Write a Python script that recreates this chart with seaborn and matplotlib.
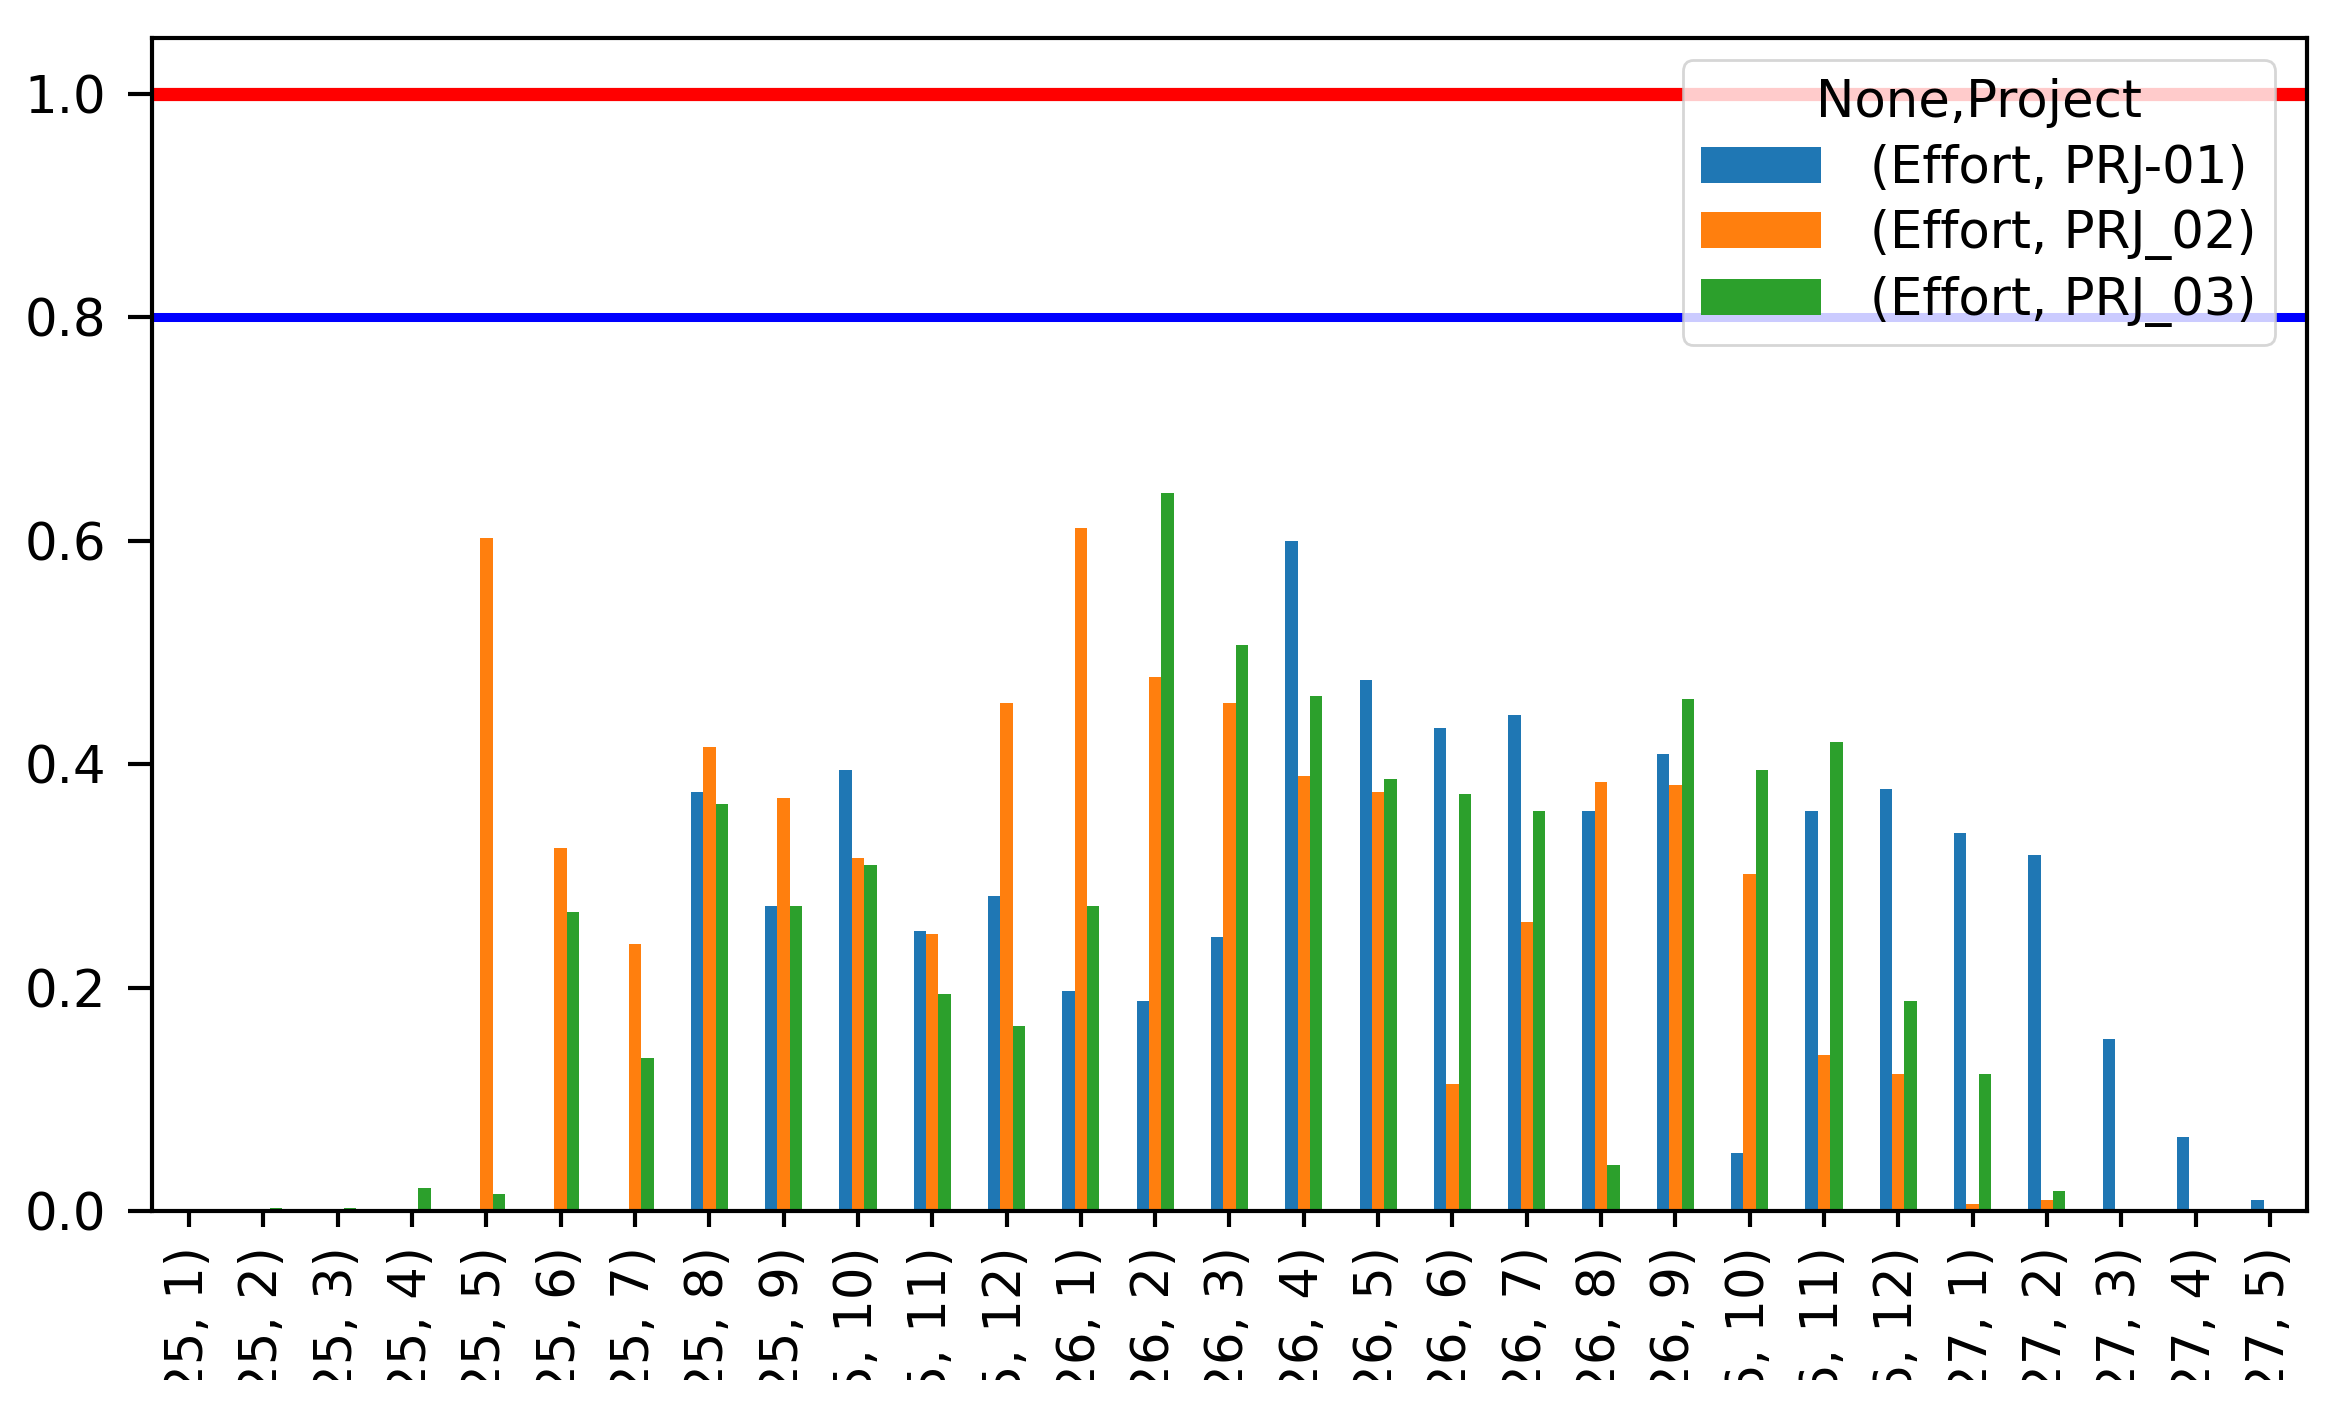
import pandas as pd
import numpy as np
import matplotlib
matplotlib.use('Agg')
import matplotlib.pyplot as plt
from matplotlib.transforms import Bbox, TransformedBbox
import seaborn as sns

# 1. Data (Effort share per month)
months = ['(2025, %d)' % m for m in range(1, 13)] + \
         ['(2026, %d)' % m for m in range(1, 13)] + \
         ['(2027, %d)' % m for m in range(1, 6)]

prj01 = [0, 0, 0, 0, 0, 0, 0, 0.375, 0.273, 0.395, 0.251, 0.282,
         0.197, 0.188, 0.245, 0.600, 0.475, 0.432, 0.444, 0.358, 0.409, 0.052, 0.358, 0.378,
         0.338, 0.319, 0.154, 0.066, 0.0095]
prj02 = [0, 0, 0, 0, 0.602, 0.325, 0.239, 0.415, 0.370, 0.316, 0.248, 0.455,
         0.611, 0.478, 0.455, 0.389, 0.375, 0.114, 0.259, 0.384, 0.381, 0.302, 0.140, 0.123,
         0.006, 0.0095, 0, 0, 0]
prj03 = [0, 0.003, 0.003, 0.021, 0.015, 0.268, 0.137, 0.364, 0.273, 0.310, 0.194, 0.166,
         0.273, 0.643, 0.507, 0.461, 0.387, 0.373, 0.358, 0.041, 0.458, 0.395, 0.420, 0.188,
         0.123, 0.018, 0, 0, 0]

series_labels = ['(Effort, PRJ-01)', '(Effort, PRJ_02)', '(Effort, PRJ_03)']
colors = ['#1f77b4', '#ff7f0e', '#2ca02c']

# 2. Long-form table for seaborn
wide = pd.DataFrame({'month': months,
                     series_labels[0]: prj01,
                     series_labels[1]: prj02,
                     series_labels[2]: prj03})
df = wide.melt(id_vars='month', var_name='series', value_name='effort')

# 3. Plot
fs = 37
plt.rcParams['font.family'] = 'DejaVu Sans'
plt.rcParams['font.size'] = fs

fig = plt.figure(figsize=(23.31, 14.18), dpi=100)
ax = fig.add_axes([0.0652, 0.146, 0.9245, 0.8272])

sns.barplot(data=df, x='month', y='effort', hue='series',
            order=months, hue_order=series_labels, palette=colors,
            saturation=1, width=0.5, errorbar=None, linewidth=0, ax=ax)

ax.axhline(1.0, color='red', lw=9.5)
ax.axhline(0.8, color='blue', lw=6.5)

ax.set_ylim(0, 1.05)
ax.set_xlim(-0.5, len(months) - 0.5)
ax.set_xlabel('')
ax.set_ylabel('')
ax.set_yticks([0.0, 0.2, 0.4, 0.6, 0.8, 1.0])
ax.set_yticklabels(['0.0', '0.2', '0.4', '0.6', '0.8', '1.0'])

for sp in ax.spines.values():
    sp.set_linewidth(3)
ax.tick_params(axis='y', length=17, width=3, pad=16, labelsize=fs)
ax.tick_params(axis='x', length=11.5, width=3, pad=14, labelsize=fs, rotation=90)

sns.move_legend(ax, loc='upper right', bbox_to_anchor=(0.985, 0.981),
                borderaxespad=0, title='None,Project', fontsize=fs,
                title_fontsize=fs, handlelength=2.35, handleheight=0.7,
                handletextpad=0.95, labelspacing=0.3, borderpad=0.35,
                frameon=True, framealpha=0.8, edgecolor='#cccccc')
ax.get_legend().get_frame().set_linewidth(2)

# 4. The source screenshot cuts the month labels off near the bottom
clip = TransformedBbox(Bbox.from_extents(0, 0.0268, 1, 1), fig.transFigure)
for lbl in ax.get_xticklabels():
    lbl.set_clip_box(clip)
    lbl.set_clip_on(True)

fig.savefig('out.png', dpi=100)
